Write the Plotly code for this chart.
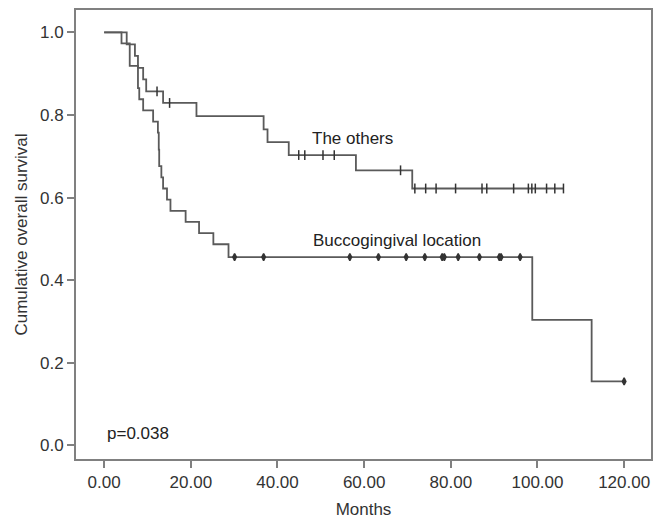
import plotly.graph_objects as go

# ---- data ----
others_t = [0, 5.2, 7.1, 7.8, 9.0, 9.7, 13.6, 21.3, 36.8, 37.7, 42.6, 58.1, 71.1]
others_s = [1.0, 0.971, 0.943, 0.914, 0.886, 0.857, 0.829, 0.797, 0.765, 0.734, 0.703, 0.666, 0.622]
others_censor = [12.2, 15.1, 44.9, 46.3, 50.5, 53.1, 68.4, 71.7, 74.2, 76.6, 81.1, 87.2, 88.3,
                 94.5, 97.9, 98.7, 99.5, 102.1, 104.0, 106.0]

bucco_t = [0, 4.0, 5.9, 7.8, 8.1, 9.0, 11.3, 12.4, 12.6, 12.7, 13.2, 13.6, 14.5, 15.3,
           18.8, 21.9, 25.2, 28.7, 98.8, 112.5]
bucco_s = [1.0, 0.973, 0.919, 0.865, 0.838, 0.811, 0.784, 0.757, 0.716, 0.676, 0.649, 0.622,
           0.595, 0.568, 0.541, 0.514, 0.487, 0.456, 0.304, 0.155]
bucco_censor = [30.1, 36.8, 56.7, 63.3, 69.7, 74.0, 78.0, 78.5, 81.7, 86.6, 91.2, 91.6, 96.0, 120.0]

x_ticks = [0, 20, 40, 60, 80, 100, 120]
y_ticks = [0.0, 0.2, 0.4, 0.6, 0.8, 1.0]


def surv_at(ts, ss, t):
    v = ss[0]
    for ti, si in zip(ts, ss):
        if ti <= t:
            v = si
    return v


def step_xy(ts, ss, censor):
    end = max(censor[-1], ts[-1])
    return ts + [end], ss + [ss[-1]]


FONT = "Liberation Sans, Arial, sans-serif"
LINE = "#5a5a5a"
fig = go.Figure()

for ts, ss, cen, sym in [(others_t, others_s, others_censor, "line-ns"),
                         (bucco_t, bucco_s, bucco_censor, "diamond-tall")]:
    x, y = step_xy(ts, ss, cen)
    fig.add_trace(go.Scatter(x=x, y=y, mode="lines", line=dict(shape="hv", color=LINE, width=1.8),
                             showlegend=False, hoverinfo="skip"))
    fig.add_trace(go.Scatter(x=cen, y=[surv_at(ts, ss, c) for c in cen], mode="markers",
                             marker=dict(symbol=sym, size=7 if sym == "line-ns" else 5,
                                         color="#333333",
                                         line=dict(color="#333333", width=1.5)),
                             showlegend=False, hoverinfo="skip"))

fig.add_annotation(x=57.4, y=0.742, text="The others", showarrow=False,
                   font=dict(family=FONT, size=17, color="#222222"))
fig.add_annotation(x=67.6, y=0.496, text="Buccogingival location", showarrow=False,
                   font=dict(family=FONT, size=17, color="#222222"))
fig.add_annotation(x=0.3, y=0.03, text="p=0.038", showarrow=False, xanchor="left",
                   font=dict(family=FONT, size=17, color="#222222"))

axis_common = dict(showgrid=False, zeroline=False, showline=True, linecolor="#808080",
                   linewidth=2, mirror=True, ticks="outside", ticklen=7, tickwidth=1.5,
                   tickcolor="#808080", tickfont=dict(family=FONT, size=17, color="#333333"))

fig.update_xaxes(range=[-6.5, 126.2], tickvals=x_ticks,
                 ticktext=[f"{v:.2f}" for v in x_ticks],
                 title=dict(text="Months", font=dict(family=FONT, size=17, color="#333333"),
                            standoff=12),
                 **axis_common)
fig.update_yaxes(range=[-0.0327, 1.054], tickvals=y_ticks,
                 ticktext=[f"{v:.1f}" for v in y_ticks],
                 title=dict(text="Cumulative overall survival",
                            font=dict(family=FONT, size=17, color="#333333"), standoff=8),
                 **axis_common)

fig.update_layout(width=655, height=523, margin=dict(l=76, r=2, t=10, b=64),
                  plot_bgcolor="white", paper_bgcolor="white")

fig.write_html("out.html")
